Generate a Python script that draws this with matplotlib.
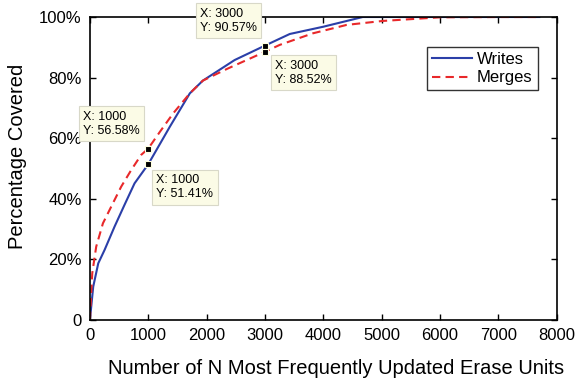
import matplotlib.pyplot as plt
from matplotlib.ticker import FuncFormatter

plt.rcParams['font.family'] = ['Liberation Sans', 'DejaVu Sans']

# Data
writes_x = [0, 57, 143, 251, 422, 593, 765, 1000, 1370, 1712, 1935, 2480, 3000, 3425, 4000, 4675, 5500, 6500, 7700]
writes_y = [0, 11, 18.7, 23.1, 30.8, 38, 45.1, 51.41, 63.8, 74.8, 79, 85.8, 90.57, 94.4, 96.8, 100, 100, 100, 100]

merges_x = [0, 40, 108, 223, 365, 536, 708, 879, 1000, 1199, 1427, 1712, 1935, 2363, 3000, 3253, 3818, 4400, 5017, 5993, 7000, 7700]
merges_y = [0, 15.4, 24.2, 31.9, 37.4, 44, 49.5, 54.5, 56.58, 62.1, 68.2, 74.8, 79, 83, 88.52, 90.8, 94.6, 97.4, 98.7, 99.9, 100, 100]

tips = [(1000, 56.58), (1000, 51.41), (3000, 90.57), (3000, 88.52)]
tip_offsets = [(-65, 38), (8, -10), (-65, 38), (10, -8)]

fig = plt.figure(figsize=(5.8, 3.84), dpi=100)
ax = fig.add_axes([0.155, 0.1667, 0.805, 0.789])

ax.plot(writes_x, writes_y, color='#2b3fa8', lw=1.5, label='Writes')
ax.plot(merges_x, merges_y, color='#e8282a', lw=1.5, ls=(0, (4, 2.5)), label='Merges')

for (tx, ty), (dx, dy) in zip(tips, tip_offsets):
    ax.plot(tx, ty, 's', color='black', ms=5, mec='#ffffe0', mew=0.8, zorder=5, clip_on=False)
    ax.annotate(f'X: {tx}\nY: {ty:.2f}%', xy=(tx, ty), xytext=(dx, dy),
                textcoords='offset pixels', ha='left', va='top', fontsize=9,
                linespacing=1.25, annotation_clip=False,
                bbox=dict(boxstyle='square,pad=0.35', facecolor='#fbfbe6', edgecolor='#d8d8c8', lw=0.8))

ax.set_xlim(0, 8000)
ax.set_ylim(0, 100)
ax.set_xticks(range(0, 8001, 1000))
ax.set_yticks(range(0, 101, 20))
ax.yaxis.set_major_formatter(FuncFormatter(lambda v, p: '0' if v == 0 else f'{int(v)}%'))
ax.tick_params(direction='in', top=True, right=True, labelsize=12, length=4, width=1, pad=6)
for s in ax.spines.values():
    s.set_linewidth(1.2)

ax.set_xlabel('Number of N Most Frequently Updated Erase Units', fontsize=14.5)
ax.xaxis.set_label_coords(0.527, -0.13)
ax.set_ylabel('Percentage Covered', fontsize=14.5)
ax.yaxis.set_label_coords(-0.135, 0.54)

leg = ax.legend(loc='upper right', bbox_to_anchor=(0.959, 0.901), fontsize=12, frameon=True,
                fancybox=False, edgecolor='black', handlelength=2.4, handletextpad=0.3,
                borderpad=0.3, labelspacing=0.2, borderaxespad=0)
leg.get_frame().set_linewidth(1.0)

fig.savefig('out.png', dpi=100)
